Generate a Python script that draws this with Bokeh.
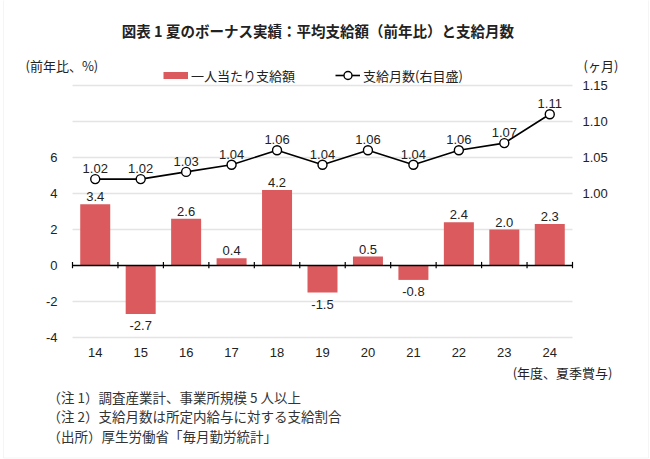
from bokeh.plotting import figure
from bokeh.models import (Range1d, LinearAxis, FixedTicker, ColumnDataSource,
                          Label, Legend, LegendItem, NumeralTickFormatter,
                          BoxAnnotation)
from bokeh.core.properties import value
from bokeh.embed import file_html
from bokeh.resources import INLINE

categories = ["14", "15", "16", "17", "18", "19", "20", "21", "22", "23", "24"]
bonus_growth = [3.4, -2.7, 2.6, 0.4, 4.2, -1.5, 0.5, -0.8, 2.4, 2.0, 2.3]
months_paid = [1.02, 1.02, 1.03, 1.04, 1.06, 1.04, 1.06, 1.04, 1.06, 1.07, 1.11]
left_ticks = [-4, -2, 0, 2, 4, 6]
grid_ticks = [-4, -2, 2, 4, 6, 8, 10]
right_ticks = [1.00, 1.05, 1.10, 1.15]

title_text = "図表 1  夏のボーナス実績：平均支給額（前年比）と支給月数"
bar_name = "一人当たり支給額"
line_name = "支給月数(右目盛)"
left_unit = "(前年比、%)"
right_unit = "(ヶ月)"
x_unit = "(年度、夏季賞与)"
notes = ["（注 1）調査産業計、事業所規模 5 人以上",
         "（注 2）支給月数は所定内給与に対する支給割合",
         "（出所）厚生労働省「毎月勤労統計」"]

JP = "Noto Sans CJK JP"
NUM = "Liberation Sans"
BAR_COLOR = "#db5a5d"
TXT = "#222222"

W, H = 650, 459
n = len(categories)
xs = [i + 0.5 for i in range(n)]

# chart area in canvas pixels; the frame covers the whole canvas so that
# all annotation texts can be drawn without clipping
PX_L, PX_R, PX_T, PX_B = 72, 572, 85, 337
Y_LO, Y_HI = -4, 10            # left scale at chart-area bottom / top
R_LO, R_HI = 0.80, 1.15        # right scale at chart-area bottom / top
xk = n / (PX_R - PX_L)
yk = (Y_HI - Y_LO) / (PX_B - PX_T)
rk = (R_HI - R_LO) / (PX_B - PX_T)
x_range = Range1d(-PX_L * xk, n + (W - PX_R) * xk)
y_range = Range1d(Y_LO - (H - PX_B) * yk, Y_HI + PX_T * yk)
r_range = Range1d(R_LO - (H - PX_B) * rk, R_HI + PX_T * rk)

p = figure(width=W, height=H, output_backend="svg", toolbar_location=None,
           title=None, x_range=x_range, y_range=y_range,
           min_border=0, background_fill_color="white",
           border_fill_color="white", outline_line_color=None)
p.extra_y_ranges = {"right": r_range}
p.xgrid.visible = False
p.ygrid.visible = False

def style_axis(ax, standoff):
    ax.axis_line_color = None
    ax.major_tick_line_color = None
    ax.minor_tick_line_color = None
    ax.major_tick_out = 0
    ax.major_tick_in = 0
    ax.minor_tick_out = 0
    ax.minor_tick_in = 0
    ax.major_label_text_font = NUM
    ax.major_label_text_font_size = "13px"
    ax.major_label_text_color = TXT
    ax.major_label_standoff = standoff

xa = p.xaxis[0]
style_axis(xa, 10)
xa.ticker = FixedTicker(ticks=xs)
xa.major_label_overrides = {x: c for x, c in zip(xs, categories)}
xa.fixed_location = Y_LO

ya = p.yaxis[0]
style_axis(ya, 15)
ya.ticker = FixedTicker(ticks=left_ticks)
ya.major_label_overrides = {t: str(t) for t in left_ticks}
ya.fixed_location = 0

ra = LinearAxis(y_range_name="right", ticker=FixedTicker(ticks=right_ticks),
                formatter=NumeralTickFormatter(format="0.00"), fixed_location=n)
style_axis(ra, 10)
p.add_layout(ra, "right")

# light frame around the whole picture
p.add_layout(BoxAnnotation(left=3, right=W - 2, bottom=1.5, top=H + 5,
                           left_units="screen", right_units="screen",
                           bottom_units="screen", top_units="screen",
                           fill_alpha=0, line_color="#dddddd", line_width=1))

# horizontal grid lines over the category span
p.segment(x0=[0] * len(grid_ticks), x1=[n] * len(grid_ticks), y0=grid_ticks,
          y1=grid_ticks, line_color="#e4e4e4", line_width=1.5)

# bars
bars = p.vbar(x=xs, top=bonus_growth, width=0.66, fill_color=BAR_COLOR,
              line_color=None)

# zero axis line with ticks at category boundaries
bounds = list(range(n + 1))
p.segment(x0=[0], x1=[n], y0=[0], y1=[0], line_color="black", line_width=1.5)
p.segment(x0=bounds, x1=bounds, y0=[-0.15] * len(bounds), y1=[0.2] * len(bounds),
          line_color="black", line_width=1.2)

# bar labels
pos = ColumnDataSource(dict(x=[x for x, v in zip(xs, bonus_growth) if v >= 0],
                            y=[v for v in bonus_growth if v >= 0],
                            t=[f"{v:.1f}" for v in bonus_growth if v >= 0]))
neg = ColumnDataSource(dict(x=[x for x, v in zip(xs, bonus_growth) if v < 0],
                            y=[v for v in bonus_growth if v < 0],
                            t=[f"{v:.1f}" for v in bonus_growth if v < 0]))
p.text(x="x", y="y", text="t", source=pos, text_align="center",
       text_baseline="bottom", y_offset=-3, text_font=value(NUM),
       text_font_size="13px", text_color=TXT)
p.text(x="x", y="y", text="t", source=neg, text_align="center",
       text_baseline="top", y_offset=7, text_font=value(NUM),
       text_font_size="13px", text_color=TXT)

# line
ln = p.line(x=xs, y=months_paid, y_range_name="right", line_color="black",
            line_width=1.6)
cr = p.scatter(x=xs, y=months_paid, y_range_name="right", marker="circle",
               size=9, fill_color="white", line_color="black", line_width=1.4)
p.text(x=xs, y=months_paid, text=[f"{v:.2f}" for v in months_paid],
       y_range_name="right", text_align="center", text_baseline="bottom",
       y_offset=-6, text_font=value(NUM), text_font_size="13px",
       text_color=TXT)

# legend: a hidden thick line in the bar colour gives the flat swatch
swatch = p.line(x=xs, y=bonus_growth, line_color=BAR_COLOR, line_width=7,
                visible=False)
legend = Legend(items=[LegendItem(label=bar_name, renderers=[swatch]),
                       LegendItem(label=line_name, renderers=[ln, cr])],
                orientation="horizontal", location=(163, H - 85),
                glyph_width=25, glyph_height=20, label_standoff=3, spacing=40,
                padding=0, margin=0, border_line_color=None,
                background_fill_alpha=0, inactive_fill_alpha=0,
                label_text_font=JP, label_text_font_size="13px",
                label_text_color=TXT)
p.add_layout(legend)

# texts (screen units from canvas bottom-left)
def lab(text, x, y_top, size="13px", align="left", style="normal", color=TXT):
    p.add_layout(Label(x=x, y=H - y_top, x_units="screen", y_units="screen",
                       text=text, text_align=align, text_baseline="middle",
                       text_font=JP, text_font_size=size,
                       text_font_style=style, text_color=color))

lab(title_text, 319, 30, size="14.5px", align="center", style="bold")
lab(left_unit, 25, 65)
lab(right_unit, 583, 65)
lab(x_unit, 612, 372, size="13px", align="right")
for k, t in enumerate(notes):
    lab(t, 47, 396 + 19.5 * k, size="13.5px", color="#333333")

open("out.html", "w").write(file_html(p, INLINE))
